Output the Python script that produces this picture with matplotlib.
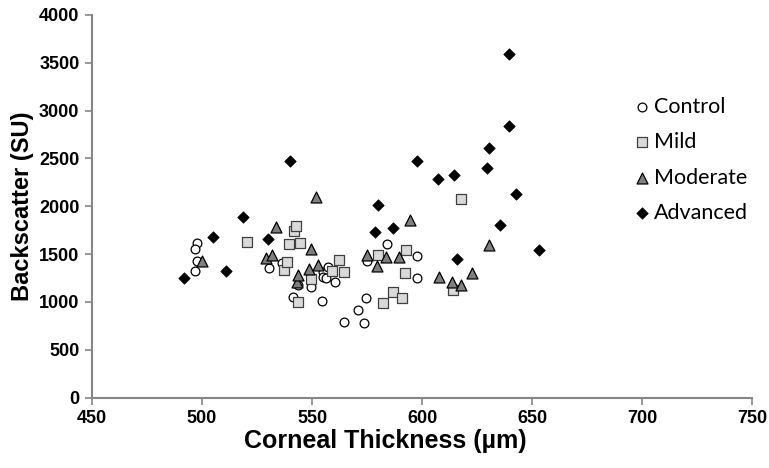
import matplotlib.pyplot as plt

# data
control_x = [497.9, 497.0, 497.6, 497.0, 530.6, 536.2, 541.5, 543.8, 549.5, 554.7, 555.2, 555.2,
             556.4, 557.4, 560.5, 564.7, 570.8, 573.6, 574.5, 574.8, 584.0, 597.6, 597.6]
control_y = [1618, 1549, 1429, 1324, 1350, 1402, 1047, 1175, 1151, 1012, 1315, 1262,
             1245, 1367, 1210, 792, 914, 775, 1037, 1429, 1604, 1478, 1245]

mild_x = [520.6, 537.4, 538.8, 539.7, 541.8, 542.7, 543.8, 544.5, 549.4, 559.0, 562.4, 564.7,
          579.9, 582.4, 586.7, 590.8, 592.3, 592.7, 614.2, 617.7]
mild_y = [1628, 1332, 1419, 1610, 1740, 1790, 995, 1620, 1235, 1325, 1437, 1315,
          1489, 984, 1106, 1037, 1304, 1541, 1123, 2074]

moderate_x = [500.0, 529.0, 531.7, 533.6, 543.0, 543.8, 548.6, 549.5, 551.8, 552.9, 574.8,
              579.7, 583.6, 589.7, 594.5, 607.7, 613.5, 617.6, 622.6, 630.6]
moderate_y = [1429, 1455, 1489, 1785, 1210, 1280, 1340, 1555, 2092, 1385, 1489,
              1374, 1465, 1471, 1855, 1262, 1210, 1176, 1304, 1594]

advanced_x = [491.8, 504.9, 510.9, 518.8, 530.0, 540.0, 578.6, 580.0, 586.7, 597.6, 607.4,
              614.5, 615.8, 629.7, 630.6, 635.5, 639.5, 639.5, 642.7, 653.3]
advanced_y = [1245, 1680, 1325, 1889, 1653, 2475, 1726, 2011, 1774, 2474, 2283,
              2328, 1444, 2395, 2610, 1802, 2837, 3589, 2123, 1541]

xticks = [450, 500, 550, 600, 650, 700, 750]
yticks = [0, 500, 1000, 1500, 2000, 2500, 3000, 3500, 4000]

axis_grey = '#868686'

fig = plt.figure(figsize=(7.69, 4.68), dpi=100)
ax = fig.add_axes([0.1196, 0.1506, 0.8584, 0.8174])

ax.scatter(control_x, control_y, s=40, marker='o', facecolor='white', edgecolor='black',
           linewidth=0.9, label='Control', zorder=3)
ax.scatter(mild_x, mild_y, s=52, marker='s', facecolor='#d9d9d9', edgecolor='#404040',
           linewidth=0.9, label='Mild', zorder=3)
ax.scatter(moderate_x, moderate_y, s=62, marker='^', facecolor='#7f7f7f', edgecolor='black',
           linewidth=0.9, label='Moderate', zorder=3)
ax.scatter(advanced_x, advanced_y, s=34, marker='D', facecolor='black', edgecolor='black',
           linewidth=0.5, label='Advanced', zorder=3)

ax.set_xlim(450, 750)
ax.set_ylim(0, 4000)
ax.set_xticks(xticks)
ax.set_yticks(yticks)

for side in ['top', 'right']:
    ax.spines[side].set_visible(False)
for side in ['left', 'bottom']:
    ax.spines[side].set_color(axis_grey)
    ax.spines[side].set_linewidth(1.5)
ax.tick_params(axis='both', direction='out', length=5, width=1.2, color=axis_grey, pad=4)

tick_font = {'family': 'Liberation Sans', 'weight': 'bold', 'size': 13}
ax.set_xticklabels([str(t) for t in xticks], fontdict=tick_font)
ax.set_yticklabels([str(t) for t in yticks], fontdict=tick_font)

ax.set_xlabel('Corneal Thickness (µm)', fontfamily='Liberation Sans', fontweight='bold',
              fontsize=18)
ax.xaxis.set_label_coords(0.445, -0.083)
ax.set_ylabel('Backscatter (SU)', fontfamily='Liberation Sans', fontweight='bold',
              fontsize=17, labelpad=4)

ax.legend(loc='upper left', bbox_to_anchor=(0.801, 0.815), frameon=False,
          prop={'family': 'Lato', 'size': 15.5}, handletextpad=0.05,
          labelspacing=0.72, borderpad=0, handlelength=1.0)

plt.savefig('out.png', dpi=100)
